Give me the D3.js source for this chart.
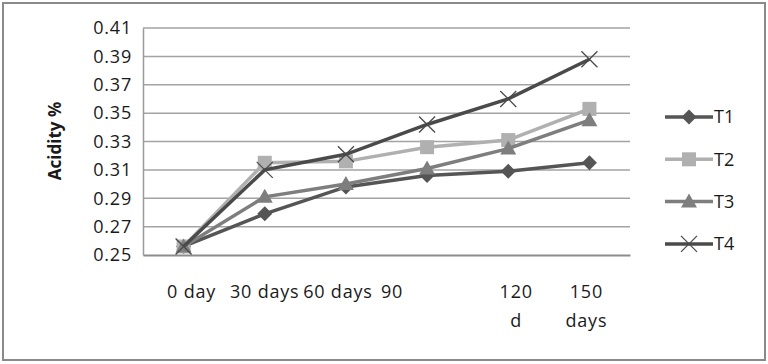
<!DOCTYPE html>
<html>
<head>
<meta charset="utf-8">
<script src="https://cdn.jsdelivr.net/npm/d3@7"></script>
<style>
  body { margin: 0; background: #fff; }
  text { font-family: "Open Sans", sans-serif; fill: #1a1a1a; }
</style>
</head>
<body>
<svg id="chart" width="768" height="364"></svg>
<script>

// data
let categories = ["0 day", "30 days", "60 days", "90", "120 d", "150 days"];
let yTicks = [0.25, 0.27, 0.29, 0.31, 0.33, 0.35, 0.37, 0.39, 0.41];
let seriesNames = ["T1", "T2", "T3", "T4"];
let t1 = [0.256, 0.279, 0.298, 0.306, 0.309, 0.315];
let t2 = [0.256, 0.315, 0.316, 0.326, 0.331, 0.353];
let t3 = [0.256, 0.291, 0.300, 0.311, 0.325, 0.345];
let t4 = [0.256, 0.310, 0.321, 0.342, 0.360, 0.388];

// label lines + nudges, Excel wraps/offsets these oddly
let labelLines = [["0 day"], ["30 days"], ["60 days"], ["90"], ["120", "d"], ["150", "days"]];
let labelShift = [8, 0, -8, -35, 8, -3];

function makeChart(id) {
    let width = 768;
    let height = 364;
    let plot = {left: 143, right: 630, top: 28, bottom: 255};

    let chart = d3.select("#" + id);

    chart.append("rect")
        .attr("x", 3).attr("y", 3)
        .attr("width", width - 6).attr("height", height - 7)
        .style("fill", "white")
        .style("stroke", "#8a8a8a")
        .style("stroke-width", 2);

    let xScale = d3.scalePoint().domain(categories).range([plot.left, plot.right]).padding(0.5);
    let yScale = d3.scaleLinear().domain([0.25, 0.41]).range([plot.bottom, plot.top]);

    // gridlines
    chart.append("g").selectAll("line").data(yTicks.slice(1)).enter().append("line")
        .attr("x1", plot.left).attr("x2", plot.right)
        .attr("y1", d => yScale(d)).attr("y2", d => yScale(d))
        .style("stroke", "#a3a3a3").style("stroke-width", 1.5);

    // y axis
    let yAxis = chart.append("g")
        .attr("transform", `translate(${plot.left},0)`)
        .call(d3.axisLeft(yScale).tickValues(yTicks).tickFormat(d3.format(".2f")).tickSize(0).tickPadding(11));
    yAxis.select(".domain").style("stroke", "#9a9a9a").style("stroke-width", 1.5);
    yAxis.selectAll("text").style("font-size", "18px").style("font-family", "Open Sans").style("fill", "#1a1a1a")
        .style("letter-spacing", "0.8px");

    // x axis
    let xAxis = chart.append("g")
        .attr("transform", `translate(0,${plot.bottom})`)
        .call(d3.axisBottom(xScale).tickSize(0).tickFormat(""));
    xAxis.select(".domain").style("stroke", "#8c8c8c").style("stroke-width", 2);

    let xl = chart.append("g").selectAll("text").data(categories).enter().append("text")
        .attr("x", (d, i) => xScale(d) + labelShift[i])
        .attr("y", 298)
        .attr("text-anchor", "middle")
        .style("font-size", "18px")
        .style("letter-spacing", "0.8px");
    xl.each(function (d, i) {
        let t = d3.select(this);
        labelLines[i].forEach((ln, j) => {
            t.append("tspan").attr("x", xScale(d) + labelShift[i]).attr("dy", j === 0 ? 0 : 29).text(ln);
        });
    });

    // y title
    chart.append("text")
        .attr("transform", "translate(61,141) rotate(-90)")
        .attr("text-anchor", "middle")
        .style("font-size", "17px")
        .style("font-weight", "bold")
        .text("Acidity %");

    let seriesData = [t1, t2, t3, t4];
    let colors = ["#555555", "#b0b0b0", "#7e7e7e", "#4a4a4a"];
    let shapes = ["diamond", "square", "triangle", "x"];

    function marker(g, shape, color) {
        if (shape === "diamond") {
            g.append("path").attr("d", "M0,-7.5L7.5,0L0,7.5L-7.5,0Z").style("fill", color);
        } else if (shape === "square") {
            g.append("rect").attr("x", -7).attr("y", -7).attr("width", 14).attr("height", 14).style("fill", color);
        } else if (shape === "triangle") {
            g.append("path").attr("d", "M0,-8L8,6L-8,6Z").style("fill", color);
        } else {
            g.append("path").attr("d", "M-8,-8L8,8M-8,8L8,-8").style("stroke", color).style("stroke-width", 1.3).style("fill", "none");
        }
    }

    let line = d3.line().x((d, i) => xScale(categories[i])).y(d => yScale(d));

    seriesData.forEach((vals, k) => {
        let g = chart.append("g");
        g.append("path").datum(vals)
            .attr("d", line)
            .style("fill", "none")
            .style("stroke", colors[k])
            .style("stroke-width", 3.5);
        g.selectAll(".pt").data(vals).enter().append("g")
            .attr("transform", (d, i) => `translate(${xScale(categories[i])},${yScale(d)})`)
            .each(function () { marker(d3.select(this), shapes[k], colors[k]); });
    });

    // legend
    let legend = chart.append("g").attr("transform", "translate(665,117)");
    seriesNames.forEach((name, k) => {
        let row = legend.append("g").attr("transform", `translate(0,${k * 42.3})`);
        row.append("line").attr("x1", 0).attr("x2", 48).attr("y1", 0).attr("y2", 0)
            .style("stroke", colors[k]).style("stroke-width", 3.5);
        let m = row.append("g").attr("transform", "translate(24,0)");
        marker(m, shapes[k], colors[k]);
        row.append("text").attr("x", 49).attr("y", 0).attr("dy", "0.35em")
            .style("font-size", "18px")
            .text(name);
    });
}

makeChart("chart");
</script>
</body>
</html>
